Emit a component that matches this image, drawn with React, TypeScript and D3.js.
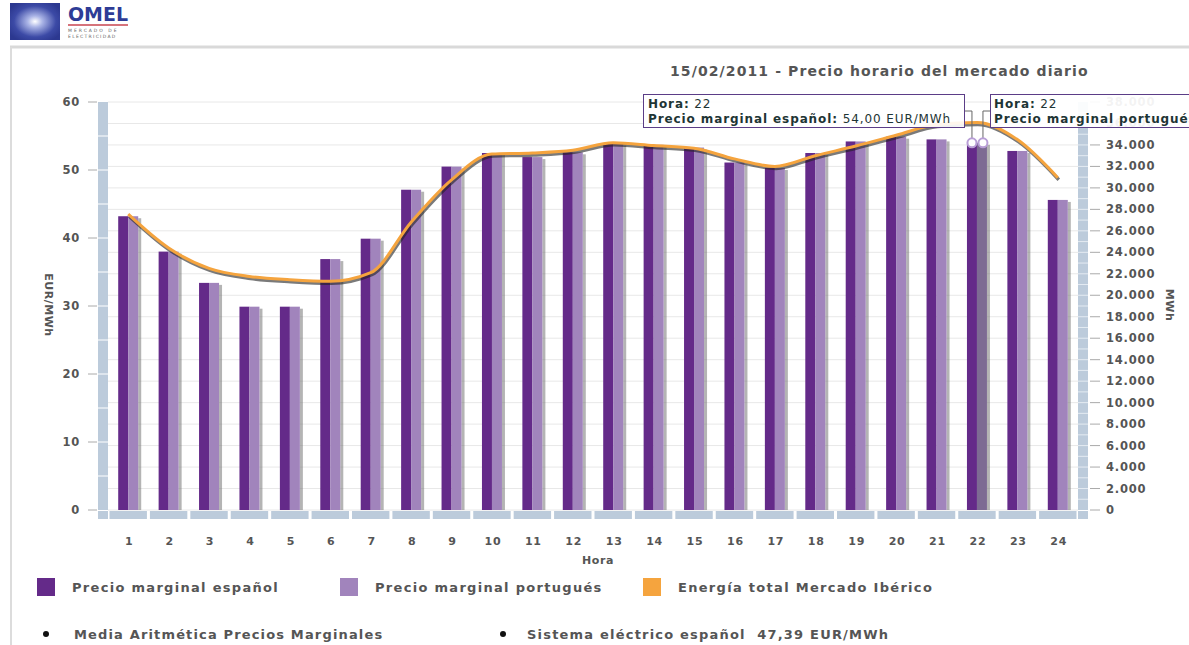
import * as React from "react";
import * as d3 from "d3";

// Hourly data, 15/02/2011
const hours = ["1", "2", "3", "4", "5", "6", "7", "8", "9", "10", "11", "12",
  "13", "14", "15", "16", "17", "18", "19", "20", "21", "22", "23", "24"];
const precioEspanol = [43.2, 38.0, 33.4, 29.9, 29.9, 36.9, 39.9, 47.1, 50.5, 52.5, 51.9, 52.6,
  53.9, 53.7, 53.3, 51.1, 50.3, 52.5, 54.2, 54.9, 54.5, 54.0, 52.8, 45.6];
const precioPortugues = [43.2, 38.0, 33.4, 29.9, 29.9, 36.9, 39.9, 47.1, 50.5, 52.5, 51.9, 52.6,
  53.9, 53.7, 53.3, 51.1, 50.3, 52.5, 54.2, 54.9, 54.5, 54.0, 52.8, 45.6];
const energiaTotal = [27550, 24400, 22500, 21750, 21450, 21300, 22100, 26800, 30750, 33150, 33250, 33500,
  34200, 33950, 33700, 32700, 32000, 33000, 33900, 34900, 35900, 36100, 34500, 30950];
const highlightHour = "22";

const legendItems = ["Precio marginal español", "Precio marginal portugués", "Energía total Mercado Ibérico"];

const FONT = "'DejaVu Sans', Verdana, sans-serif";
const TXT = "#555";
const DARK = "#642a89";
const LIGHT = "#a184bc";
const ORANGE = "#f5a43e";
const WALL = "#bccbdb";

const W = 1189, H = 645;
const plot = { left: 108, right: 1078, top: 102, bottom: 510 };

export default function App() {
  const x = d3.scaleBand<string>().domain(hours).range([plot.left, plot.right]);
  const yL = d3.scaleLinear().domain([0, 60]).range([plot.bottom, plot.top]);
  const yR = d3.scaleLinear().domain([0, 38000]).range([plot.bottom, plot.top]);
  const bw = x.bandwidth();
  const cx = (h: string) => (x(h) as number) + bw / 2;

  const fmtR = (v: number) => d3.format(",")(v).replace(/,/g, ".");
  const rTicks = yR.ticks(20);
  const lTicks = yL.ticks(6);
  const wallL = d3.range(5, 60, 5);
  const wallR = d3.range(1000, 38000, 1000);

  const line = d3.line<number>()
    .x((d, i) => cx(hours[i]))
    .y((d) => yR(d))
    .curve(d3.curveMonotoneX);

  const hx = cx(highlightHour);
  const hi = hours.indexOf(highlightHour);
  const fmtP = (v: number) => d3.format(".2f")(v).replace(".", ",");

  return (
    <div style={{ position: "fixed", left: 0, top: 0 }}>
      <svg width={W} height={H} style={{ display: "block", background: "#fff", fontFamily: FONT }}>
        <defs>
          <radialGradient id="logoGlow" cx="50%" cy="50%" r="60%">
            <stop offset="0%" stopColor="#ffffff" />
            <stop offset="25%" stopColor="#aab4e6" />
            <stop offset="70%" stopColor="#3c4aa6" />
            <stop offset="100%" stopColor="#2c3890" />
          </radialGradient>
        </defs>

        {/* logo */}
        <rect x={10} y={3} width={50} height={37} fill="url(#logoGlow)" />
        <text x={68} y={21} fontSize={19} fontWeight="bold" fill="#2e3c96" textLength={60} lengthAdjust="spacingAndGlyphs">OMEL</text>
        <line x1={68} x2={128} y1={25} y2={25} stroke="#c8454f" strokeWidth={1.5} />
        <text x={68} y={32} fontSize={4.5} fill="#666" letterSpacing={2}>MERCADO DE</text>
        <text x={68} y={38} fontSize={4.5} fill="#666" letterSpacing={1.3}>ELECTRICIDAD</text>

        {/* panel border */}
        <line x1={10} x2={W} y1={47} y2={47} stroke="#d9d9d9" strokeWidth={3} />
        <line x1={11} x2={11} y1={47} y2={H} stroke="#dcdcdc" strokeWidth={2} />

        {/* title */}
        <text x={670} y={76} fontSize={14} fontWeight="bold" fill={TXT} letterSpacing={1.1}>
          15/02/2011 - Precio horario del mercado diario
        </text>

        {/* gridlines */}
        {rTicks.map((t) => (
          <line key={"g" + t} x1={plot.left} x2={plot.right} y1={yR(t)} y2={yR(t)} stroke="#e8e8e8" />
        ))}

        {/* walls */}
        <rect x={98} y={plot.top} width={10} height={plot.bottom - plot.top} fill={WALL} />
        {wallL.map((t) => (
          <line key={"wl" + t} x1={98} x2={108} y1={yL(t)} y2={yL(t)} stroke="#fff" strokeWidth={1} />
        ))}
        <rect x={1078} y={plot.top} width={10} height={plot.bottom - plot.top} fill={WALL} />
        {wallR.map((t) => (
          <line key={"wr" + t} x1={1078} x2={1088} y1={yR(t)} y2={yR(t)} stroke="#e4ebf2" strokeWidth={1} />
        ))}

        {/* floor */}
        <rect x={98} y={511} width={10} height={8} fill={WALL} />
        <rect x={1078} y={511} width={10} height={8} fill={WALL} />
        {hours.map((h) => (
          <rect key={"f" + h} x={(x(h) as number) + 1.5} y={511} width={bw - 3} height={8} fill={WALL} />
        ))}

        {/* left axis */}
        {lTicks.map((t) => (
          <g key={"l" + t}>
            <line x1={88} x2={97} y1={yL(t)} y2={yL(t)} stroke="#aaa" />
            <text x={80} y={yL(t) + 4} textAnchor="end" fontSize={11.5} fontWeight="bold" fill={TXT} letterSpacing={0.8}>{t}</text>
          </g>
        ))}
        <text transform="translate(45,305) rotate(90)" textAnchor="middle" fontSize={11} fontWeight="bold" fill={TXT} letterSpacing={0.5}>EUR/MWh</text>

        {/* right axis */}
        {rTicks.map((t) => (
          <g key={"r" + t}>
            <line x1={1090} x2={1100} y1={yR(t)} y2={yR(t)} stroke="#aaa" />
            <text x={1106} y={yR(t) + 4} fontSize={11.5} fontWeight="bold" fill={TXT} letterSpacing={0.8}>{fmtR(t)}</text>
          </g>
        ))}
        <text transform="translate(1166,305) rotate(90)" textAnchor="middle" fontSize={11} fontWeight="bold" fill={TXT} letterSpacing={0.5}>MWh</text>

        {/* bars */}
        {hours.map((h, i) => {
          const c = cx(h);
          const top = Math.min(yL(precioPortugues[i]), yL(precioEspanol[i]));
          return (
            <g key={"b" + h}>
              <rect x={c + 10} y={top + 2} width={3} height={plot.bottom - top - 2} fill="#777" opacity={0.55} />
              <rect x={c - 10} y={yL(precioEspanol[i])} width={10} height={plot.bottom - yL(precioEspanol[i])} fill={DARK} />
              <rect x={c} y={yL(precioPortugues[i])} width={10} height={plot.bottom - yL(precioPortugues[i])}
                fill={h === highlightHour ? "#7d6b93" : LIGHT} />
            </g>
          );
        })}

        {/* x axis labels */}
        {hours.map((h) => (
          <text key={"x" + h} x={cx(h) + 1} y={545} textAnchor="middle" fontSize={11} fontWeight="bold" fill={TXT} letterSpacing={0.8}>{h}</text>
        ))}
        <text x={598} y={564} textAnchor="middle" fontSize={11} fontWeight="bold" fill={TXT} letterSpacing={0.6}>Hora</text>

        {/* energy line */}
        <path d={line(energiaTotal) as string} fill="none" stroke="#222" strokeOpacity={0.6} strokeWidth={3.5}
          transform="translate(1,2)" strokeLinejoin="round" />
        <path d={line(energiaTotal) as string} fill="none" stroke={ORANGE} strokeWidth={3} strokeLinejoin="round" />

        {/* tooltips */}
        <path d={`M965,111 H${hx - 5} V${yL(precioEspanol[hi]) - 4}`} fill="none" stroke="#666" />
        <path d={`M990,111 H${hx + 6} V${yL(precioPortugues[hi]) - 4}`} fill="none" stroke="#666" />
        <circle cx={hx - 5} cy={yL(precioEspanol[hi])} r={4.5} fill="#fff" stroke="#b89ed6" strokeWidth={2} />
        <circle cx={hx + 6} cy={yL(precioPortugues[hi])} r={4.5} fill="#fff" stroke="#b89ed6" strokeWidth={2} />

        <rect x={643.5} y={94.5} width={321} height={33} fill="#fff" fillOpacity={0.9} stroke="#5b3d87" />
        <text x={648} y={108} fontSize={12} fill="#1e3535" letterSpacing={0.9}>
          <tspan fontWeight="bold">Hora:</tspan> {highlightHour}
        </text>
        <text x={648} y={123} fontSize={12} fill="#1e3535" letterSpacing={0.9}>
          <tspan fontWeight="bold">Precio marginal español:</tspan> {fmtP(precioEspanol[hi])} EUR/MWh
        </text>

        <rect x={990.5} y={94.5} width={260} height={33} fill="#fff" fillOpacity={0.93} stroke="#5b3d87" />
        <text x={994} y={108} fontSize={12} fill="#1e3535" letterSpacing={0.9}>
          <tspan fontWeight="bold">Hora:</tspan> {highlightHour}
        </text>
        <text x={994} y={123} fontSize={12} fill="#1e3535" letterSpacing={0.9}>
          <tspan fontWeight="bold">Precio marginal portugués:</tspan> {fmtP(precioPortugues[hi])} EUR/MWh
        </text>

        {/* legend */}
        {legendItems.map((name, i) => {
          const lx = 37 + i * 303;
          return (
            <g key={name}>
              <rect x={lx} y={578} width={18} height={18} fill={[DARK, LIGHT, ORANGE][i]} />
              <text x={lx + 35} y={592} fontSize={13} fontWeight="bold" fill={TXT} letterSpacing={1.3}>{name}</text>
            </g>
          );
        })}

        <circle cx={46} cy={634} r={3} fill="#111" />
        <text x={74} y={639} fontSize={13} fontWeight="bold" fill={TXT} letterSpacing={1.15}>Media Aritmética Precios Marginales</text>
        <circle cx={503} cy={634} r={3} fill="#111" />
        <text x={527} y={639} fontSize={13} fontWeight="bold" fill={TXT} letterSpacing={1.2} style={{ whiteSpace: "pre" }}>
          {"Sistema eléctrico español  47,39 EUR/MWh"}
        </text>
      </svg>
    </div>
  );
}
